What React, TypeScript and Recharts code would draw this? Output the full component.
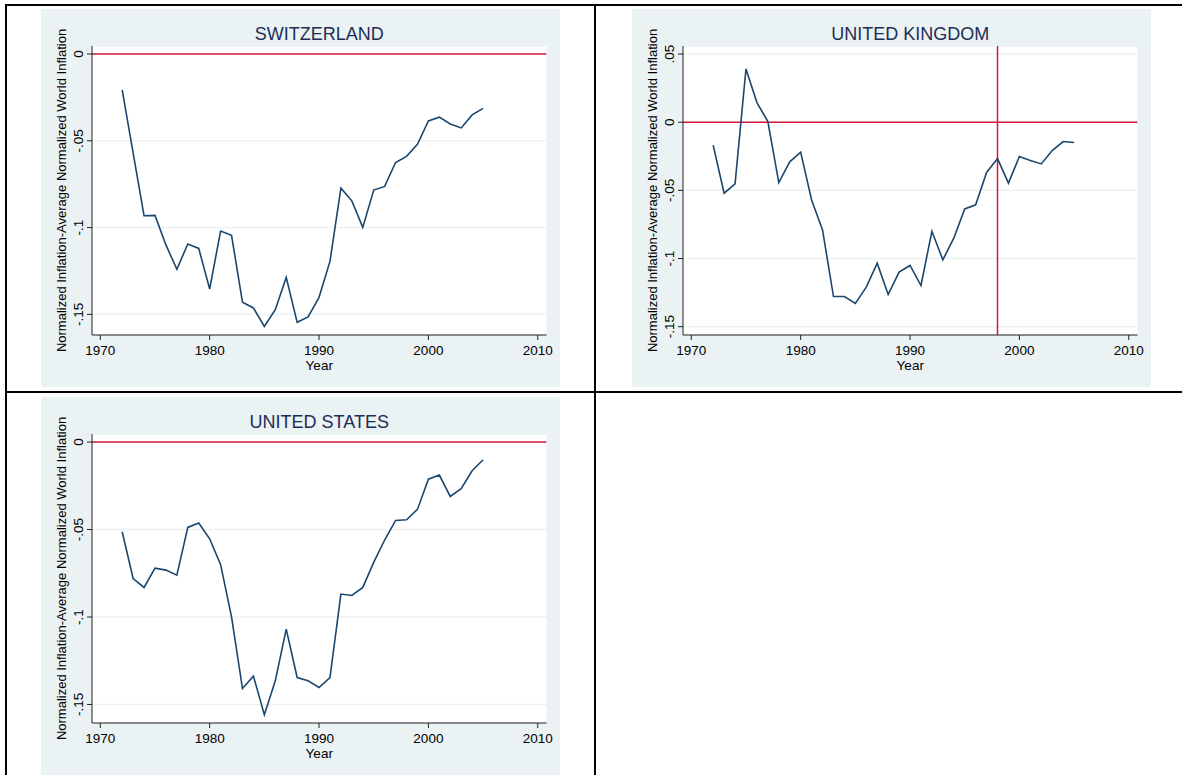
import React from "react";
import { LineChart, Line, XAxis, YAxis, CartesianGrid, ReferenceLine } from "recharts";

const years = [
  1972, 1973, 1974, 1975, 1976, 1977, 1978, 1979, 1980, 1981,
  1982, 1983, 1984, 1985, 1986, 1987, 1988, 1989, 1990, 1991,
  1992, 1993, 1994, 1995, 1996, 1997, 1998, 1999, 2000, 2001,
  2002, 2003, 2004, 2005,
];

const switzerland = [
  -0.0207, -0.057, -0.0932, -0.093, -0.11, -0.124, -0.1095, -0.112, -0.1354, -0.102,
  -0.1045, -0.143, -0.1463, -0.157, -0.1473, -0.1287, -0.1546, -0.1515, -0.1402, -0.1195,
  -0.0773, -0.0846, -0.0999, -0.0784, -0.0763, -0.0625, -0.059, -0.052, -0.0386, -0.0364,
  -0.0403, -0.0426, -0.0351, -0.0313,
];

const unitedKingdom = [
  -0.0169, -0.0521, -0.0452, 0.0391, 0.0144, 0.0005, -0.0443, -0.0291, -0.022, -0.057,
  -0.079, -0.1279, -0.1279, -0.133, -0.121, -0.1034, -0.1264, -0.11, -0.1051, -0.1198,
  -0.08, -0.101, -0.0851, -0.0636, -0.0606, -0.0369, -0.0267, -0.0447, -0.0252, -0.0281,
  -0.0306, -0.0208, -0.0142, -0.0149,
];

const unitedStates = [
  -0.0513, -0.078, -0.0831, -0.0721, -0.0732, -0.0761, -0.0488, -0.0463, -0.0553, -0.0701,
  -0.0999, -0.1409, -0.1338, -0.1559, -0.1365, -0.1069, -0.1346, -0.1365, -0.1403, -0.1346,
  -0.0869, -0.0877, -0.0831, -0.0688, -0.056, -0.0448, -0.0444, -0.0385, -0.0212, -0.0189,
  -0.0311, -0.0267, -0.0164, -0.0101,
];

const xTicks = [1970, 1980, 1990, 2000, 2010];
const chTicks = [0, -0.05, -0.1, -0.15];
const ukTicks = [0.05, 0, -0.05, -0.1, -0.15];
const usTicks = [0, -0.05, -0.1, -0.15];

const yAxisTitle = "Normalized Inflation-Average Normalized World Inflation";
const xAxisTitle = "Year";

const FONT = "'Liberation Sans', Arial, Helvetica, sans-serif";
const NAVY = "#1a476f";
const RED = "#d4163e";
const BG = "#eaf2f3";

const W = 519;
const H = 378;
const M_TOP = 37;
const M_RIGHT = 13.5;
const Y_W = 51;
const X_H = 52;
const PLOT_L = Y_W;
const PLOT_R = W - M_RIGHT;
const PLOT_T = M_TOP;
const PLOT_B = H - X_H;

const fmtY = (v: number) => {
  if (Math.abs(v) < 1e-9) return "0";
  const s = String(Math.abs(Number(v.toFixed(4)))).replace(/^0/, "");
  return (v < 0 ? "-" : "") + s;
};

const YTick = (props: any) => {
  const { y, payload } = props;
  const x = PLOT_L - 9;
  return (
    <text
      x={x}
      y={y}
      transform={`rotate(-90 ${x} ${y})`}
      textAnchor="middle"
      fontSize={13.5}
      fontFamily={FONT}
      fill="#000"
    >
      {fmtY(payload.value)}
    </text>
  );
};

const XTick = (props: any) => {
  const { x, payload } = props;
  return (
    <text x={x} y={PLOT_B + 20} textAnchor="middle" fontSize={13.5} fontFamily={FONT} fill="#000">
      {payload.value}
    </text>
  );
};

type PanelProps = {
  left: number;
  top: number;
  title: string;
  values: number[];
  yTicks: number[];
  yDomain: [number, number];
  vLine?: number;
};

const Panel = ({ left, top, title, values, yTicks, yDomain, vLine }: PanelProps) => {
  const data = years.map((yr, i) => ({ year: yr, value: values[i] }));
  const cx = (PLOT_L + PLOT_R) / 2;
  const cy = (PLOT_T + PLOT_B) / 2;
  return (
    <div style={{ position: "absolute", left, top, width: W, height: H, background: BG }}>
      <LineChart
        width={W}
        height={H}
        data={data}
        margin={{ top: M_TOP, right: M_RIGHT, left: 0, bottom: 0 }}
      >
        <CartesianGrid vertical={false} stroke={BG} strokeWidth={1.5} fill="#ffffff" fillOpacity={1} />
        <XAxis
          dataKey="year"
          type="number"
          domain={[1969.24, 2010.8]}
          ticks={xTicks}
          allowDataOverflow
          height={X_H}
          tickSize={5}
          tick={<XTick />}
          axisLine={{ stroke: "#222", strokeWidth: 1 }}
          tickLine={{ stroke: "#222", strokeWidth: 1 }}
        />
        <YAxis
          type="number"
          domain={yDomain}
          ticks={yTicks}
          allowDataOverflow
          width={Y_W}
          tickSize={5}
          tick={<YTick />}
          axisLine={{ stroke: "#222", strokeWidth: 1 }}
          tickLine={{ stroke: "#222", strokeWidth: 1 }}
        />
        <ReferenceLine y={0} stroke={RED} strokeWidth={1.5} ifOverflow="hidden" />
        {vLine !== undefined && <ReferenceLine x={vLine} stroke={RED} strokeWidth={1.5} />}
        <Line
          type="linear"
          dataKey="value"
          stroke={NAVY}
          strokeWidth={1.6}
          dot={false}
          activeDot={false}
          isAnimationActive={false}
        />
      </LineChart>
      <svg
        width={W}
        height={H}
        style={{ position: "absolute", left: 0, top: 0, pointerEvents: "none", overflow: "visible" }}
      >
        <text x={cx} y={30.7} textAnchor="middle" fontSize={18} fontFamily={FONT} fill="#1e2d57">
          {title}
        </text>
        <text
          x={24.7}
          y={cy}
          transform={`rotate(-90 24.7 ${cy})`}
          textAnchor="middle"
          fontSize={13}
          fontFamily={FONT}
          fill="#000"
        >
          {yAxisTitle}
        </text>
        <text x={cx} y={PLOT_B + 35} textAnchor="middle" fontSize={13.5} fontFamily={FONT} fill="#000">
          {xAxisTitle}
        </text>
      </svg>
    </div>
  );
};

const lineStyle = (l: number, t: number, w: number, h: number): React.CSSProperties => ({
  position: "absolute",
  left: l,
  top: t,
  width: w,
  height: h,
  background: "#000",
});

export default function App() {
  return (
    <div
      style={{
        position: "absolute",
        left: 0,
        top: 0,
        width: 1182,
        height: 775,
        overflow: "hidden",
        background: "#fff",
      }}
    >
      <Panel
        left={41.3}
        top={9}
        title="SWITZERLAND"
        values={switzerland}
        yTicks={chTicks}
        yDomain={[-0.1619, 0.0046]}
      />
      <Panel
        left={631.5}
        top={9}
        title="UNITED KINGDOM"
        values={unitedKingdom}
        yTicks={ukTicks}
        yDomain={[-0.1561, 0.0559]}
        vLine={1998}
      />
      <Panel
        left={41.3}
        top={397}
        title="UNITED STATES"
        values={unitedStates}
        yTicks={usTicks}
        yDomain={[-0.1606, 0.0046]}
      />
      <div style={lineStyle(5, 4, 1177, 2)} />
      <div style={lineStyle(5, 4, 2, 771)} />
      <div style={lineStyle(594, 4, 2, 771)} />
      <div style={lineStyle(5, 391, 1177, 2)} />
    </div>
  );
}
